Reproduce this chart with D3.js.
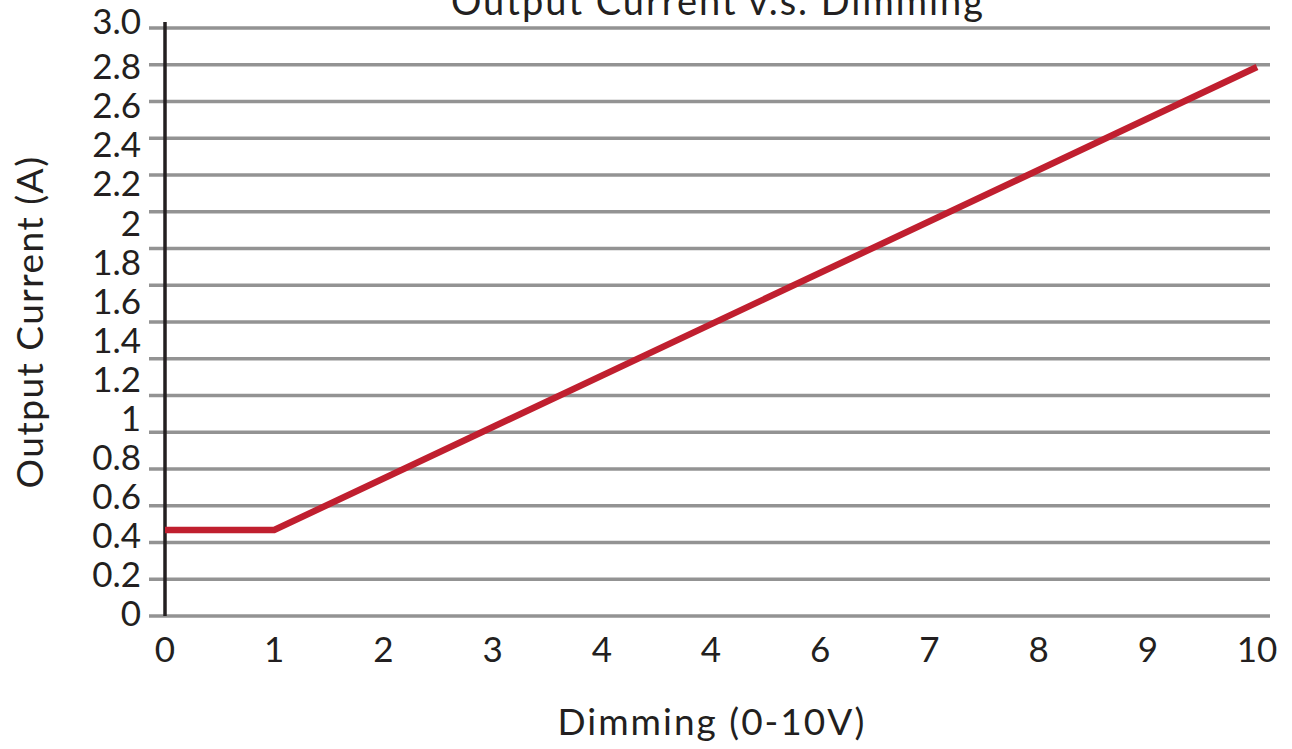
<!DOCTYPE html>
<html>
<head>
<meta charset="utf-8">
<script src="https://cdn.jsdelivr.net/npm/d3@7"></script>
<style>
  body { margin: 0; background: #fff; }
  svg { display: block; }
  text { font-family: Lato, "Open Sans", sans-serif; fill: #231f20; }
</style>
</head>
<body>
<script>
const width = 1292;
const height = 749;

// data
const dimming = [0, 1, 10];
const current = [0.43, 0.43, 2.8];
const xTicks = [0, 1, 2, 3, 4, 5, 6, 7, 8, 9, 10];
const xTickLabels = ["0", "1", "2", "3", "4", "4", "6", "7", "8", "9", "10"];
const yTicks = [3.0, 2.8, 2.6, 2.4, 2.2, 2, 1.8, 1.6, 1.4, 1.2, 1, 0.8, 0.6, 0.4, 0.2, 0];
const yTickLabels = ["3.0", "2.8", "2.6", "2.4", "2.2", "2", "1.8", "1.6", "1.4", "1.2", "1", "0.8", "0.6", "0.4", "0.2", "0"];
const gridCount = 17; // the drawn grid has one more line than labels

const svg = d3.select("body").append("svg")
  .attr("width", width)
  .attr("height", height);

const x = d3.scaleLinear().domain([0, 10]).range([165, 1257]);
const y = d3.scaleLinear().domain([0, 2.8]).range([614, 67]);
const gridY = d3.scaleLinear().domain([0, gridCount - 1]).range([616, 28]);

// grid lines
svg.append("g")
  .selectAll("line")
  .data(d3.range(gridCount))
  .enter()
  .append("line")
  .attr("x1", 149)
  .attr("x2", 1270)
  .attr("y1", d => gridY(d))
  .attr("y2", d => gridY(d))
  .attr("stroke", "#939393")
  .attr("stroke-width", 3.5);

// vertical axis line
svg.append("line")
  .attr("x1", x(0)).attr("x2", x(0))
  .attr("y1", 22).attr("y2", gridY(0))
  .attr("stroke", "#231f20")
  .attr("stroke-width", 3.5);

// y tick labels
svg.append("g")
  .selectAll("text")
  .data(yTicks)
  .enter()
  .append("text")
  .attr("x", 141)
  .attr("y", (d, i) => y(d) + (i === 0 ? -6 : 0))
  .attr("dy", "0.35em")
  .attr("text-anchor", "end")
  .style("font-size", "35px")
  .text((d, i) => yTickLabels[i]);

// x tick labels
svg.append("g")
  .selectAll("text")
  .data(xTicks)
  .enter()
  .append("text")
  .attr("x", d => x(d))
  .attr("y", 662)
  .attr("text-anchor", "middle")
  .style("font-size", "35px")
  .text((d, i) => xTickLabels[i]);

// the curve
const line = d3.line()
  .x((d, i) => x(dimming[i]))
  .y(d => y(d));

svg.append("path")
  .datum(current)
  .attr("d", line)
  .attr("fill", "none")
  .attr("stroke", "#c01f2f")
  .attr("stroke-width", 6.5)
  .attr("stroke-linejoin", "miter");

// titles
svg.append("text")
  .attr("x", 718)
  .attr("y", 15)
  .attr("text-anchor", "middle")
  .style("font-size", "38px")
  .style("letter-spacing", "2px")
  .text("Output Current v.s. Dimming");

svg.append("text")
  .attr("x", 712)
  .attr("y", 735)
  .attr("text-anchor", "middle")
  .style("font-size", "37px")
  .style("letter-spacing", "2px")
  .text("Dimming (0-10V)");

svg.append("text")
  .attr("transform", "translate(43,322) rotate(-90)")
  .attr("text-anchor", "middle")
  .style("font-size", "37px")
  .style("letter-spacing", "1.5px")
  .text("Output Current (A)");
</script>
</body>
</html>
